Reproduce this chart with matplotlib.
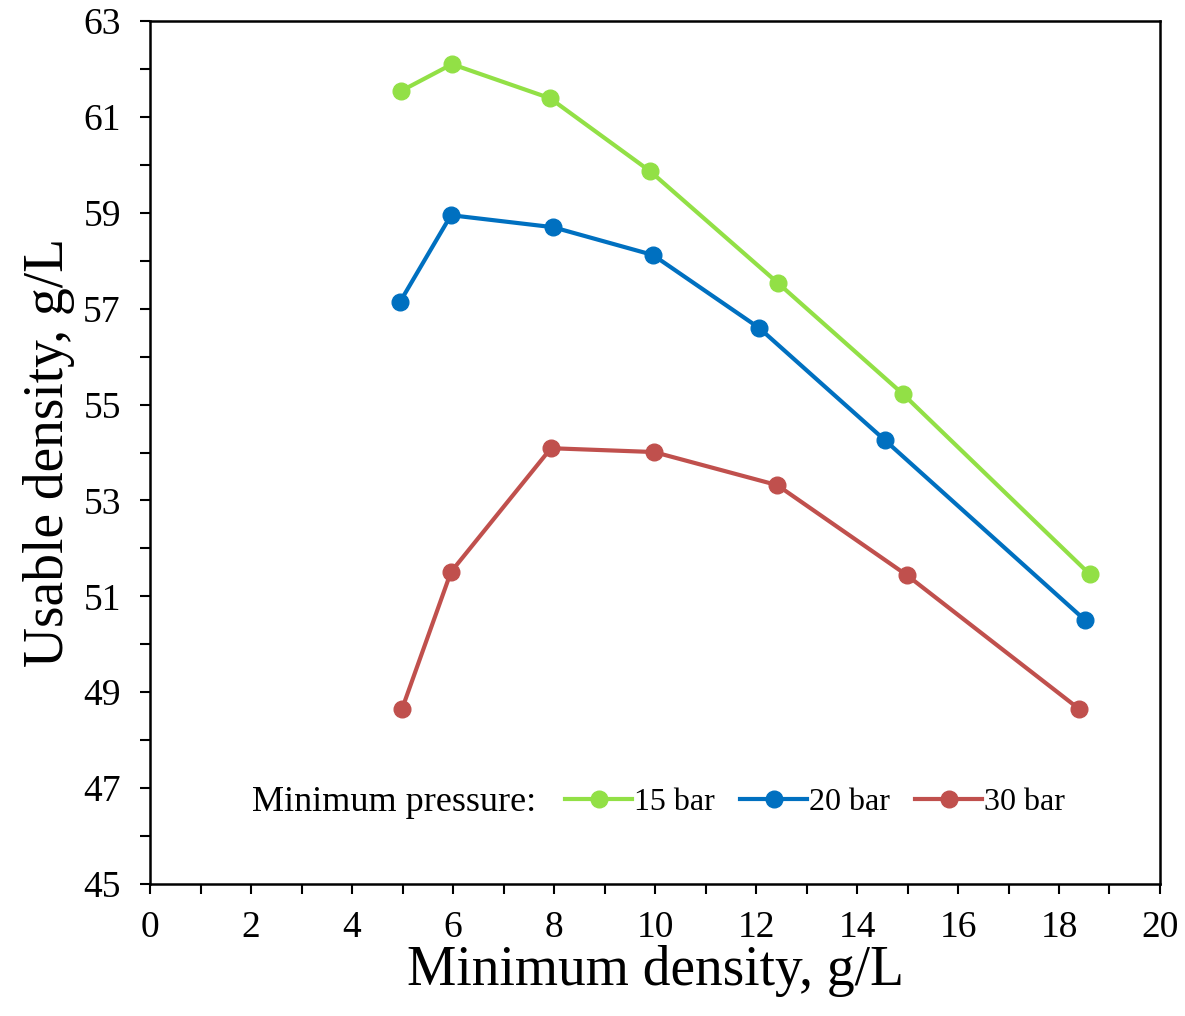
import matplotlib
matplotlib.use("Agg")
import matplotlib.pyplot as plt
from matplotlib.ticker import MultipleLocator

plt.rcParams['font.family'] = ['Liberation Serif', 'DejaVu Serif']

## datos
x_15 = [4.97, 5.98, 7.92, 9.90, 12.44, 14.91, 18.61]
y_15 = [61.54, 62.10, 61.39, 59.87, 57.53, 55.22, 51.46]
x_20 = [4.95, 5.96, 7.98, 9.96, 12.06, 14.55, 18.51]
y_20 = [57.14, 58.95, 58.70, 58.12, 56.60, 54.26, 50.51]
x_30 = [4.99, 5.96, 7.94, 9.98, 12.42, 14.99, 18.40]
y_30 = [48.65, 51.51, 54.09, 54.01, 53.32, 51.44, 48.65]
etiquetas = ["15 bar", "20 bar", "30 bar"]
colores = ["#92E046", "#0070C0", "#C0504D"]
yticks = [45, 47, 49, 51, 53, 55, 57, 59, 61, 63]

fig = plt.figure(figsize=(11.85, 10.16), dpi=100)
ax = fig.add_axes([0.1266, 0.1299, 0.8523, 0.8494])

for xs, ys, lab, c in zip([x_15, x_20, x_30], [y_15, y_20, y_30], etiquetas, colores):
    ax.plot(xs, ys, color=c, lw=3, marker="o", ms=12, label=lab)

ax.set_xlim(0, 20)
ax.set_ylim(45, 63)
ax.xaxis.set_major_locator(MultipleLocator(2))
ax.xaxis.set_minor_locator(MultipleLocator(1))
ax.set_yticks(yticks)
ax.yaxis.set_minor_locator(MultipleLocator(1))
ax.tick_params(which="both", direction="out", length=7, width=1.5, labelsize=27)
ax.tick_params(axis="x", pad=12)
ax.tick_params(axis="y", pad=14)
for s in ax.spines.values():
    s.set_linewidth(1.8)

ax.set_xlabel("Minimum density, g/L", fontsize=40, labelpad=0)
ax.set_ylabel("Usable density, g/L", fontsize=40, labelpad=6)

ax.text(0.101, 0.095, "Minimum pressure:", transform=ax.transAxes, fontsize=26,
        va="center", ha="left")
ax.legend(loc="center left", bbox_to_anchor=(0.411, 0.095), ncol=3, frameon=False,
          fontsize=23, handlelength=2.1, handletextpad=0.05, columnspacing=0.8,
          borderpad=0, borderaxespad=0)

plt.savefig("out.png", dpi=100)
